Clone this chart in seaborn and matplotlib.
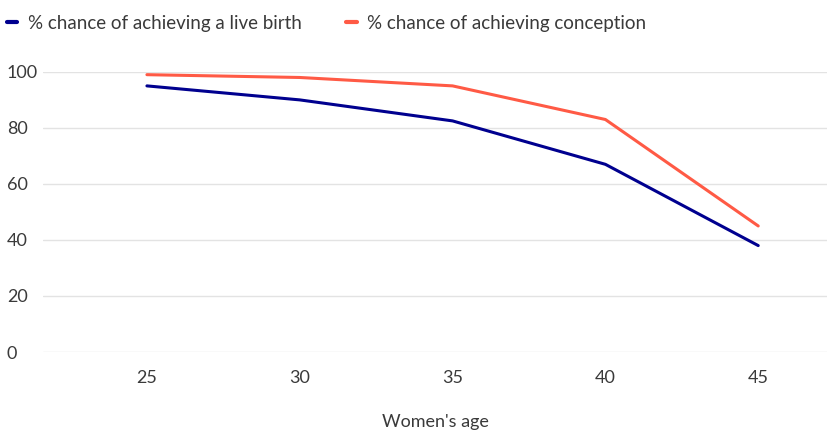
import pandas as pd
import matplotlib.pyplot as plt
import seaborn as sns

ages = [25, 30, 35, 40, 45]
live_birth = [95, 90, 82.5, 67, 38]
conception = [99, 98, 95, 83, 45]
series_names = ["% chance of achieving a live birth", "% chance of achieving conception"]
y_ticks = [0, 20, 40, 60, 80, 100]

df = pd.DataFrame({
    "age": ages * 2,
    "value": live_birth + conception,
    "series": [series_names[0]] * len(ages) + [series_names[1]] * len(ages),
})

sns.set_style("white")
plt.rcParams["font.family"] = ["Lato", "DejaVu Sans"]
text_color = "#3a3a3a"

fig = plt.figure(figsize=(8.27, 4.33), dpi=100)
ax = fig.add_axes([0.052, 0.187, 0.948, 0.647])

palette = {series_names[0]: "#00008f", series_names[1]: "#ff5a45"}
sns.lineplot(data=df, x="age", y="value", hue="series", palette=palette,
             linewidth=2.2, ax=ax, legend=False, clip_on=False)

ax.set_xlim(21.6, 47.25)
ax.set_ylim(0, 100)
ax.set_yticks(y_ticks)
ax.set_xticks(ages)
ax.yaxis.grid(True, color="#e3e3e3", linewidth=1)
ax.set_axisbelow(True)
for s in ax.spines.values():
    s.set_visible(False)

ax.tick_params(axis="both", length=0, labelsize=13, colors=text_color)
ax.tick_params(axis="y", pad=26)
for lbl in ax.get_yticklabels():
    lbl.set_horizontalalignment("left")
ax.tick_params(axis="x", pad=13)

ax.set_ylabel("")
ax.set_xlabel("Women's age", fontsize=13, color=text_color, labelpad=20)

handles = [plt.Line2D([], [], color=palette[n], linewidth=3) for n in series_names]
fig.legend(handles, series_names, loc="upper left", bbox_to_anchor=(-0.012, 1.005),
           ncol=2, frameon=False, handlelength=0.55, handletextpad=0.55,
           columnspacing=2.4, fontsize=13.5, labelcolor=text_color)

fig.savefig("out.png", dpi=100)
